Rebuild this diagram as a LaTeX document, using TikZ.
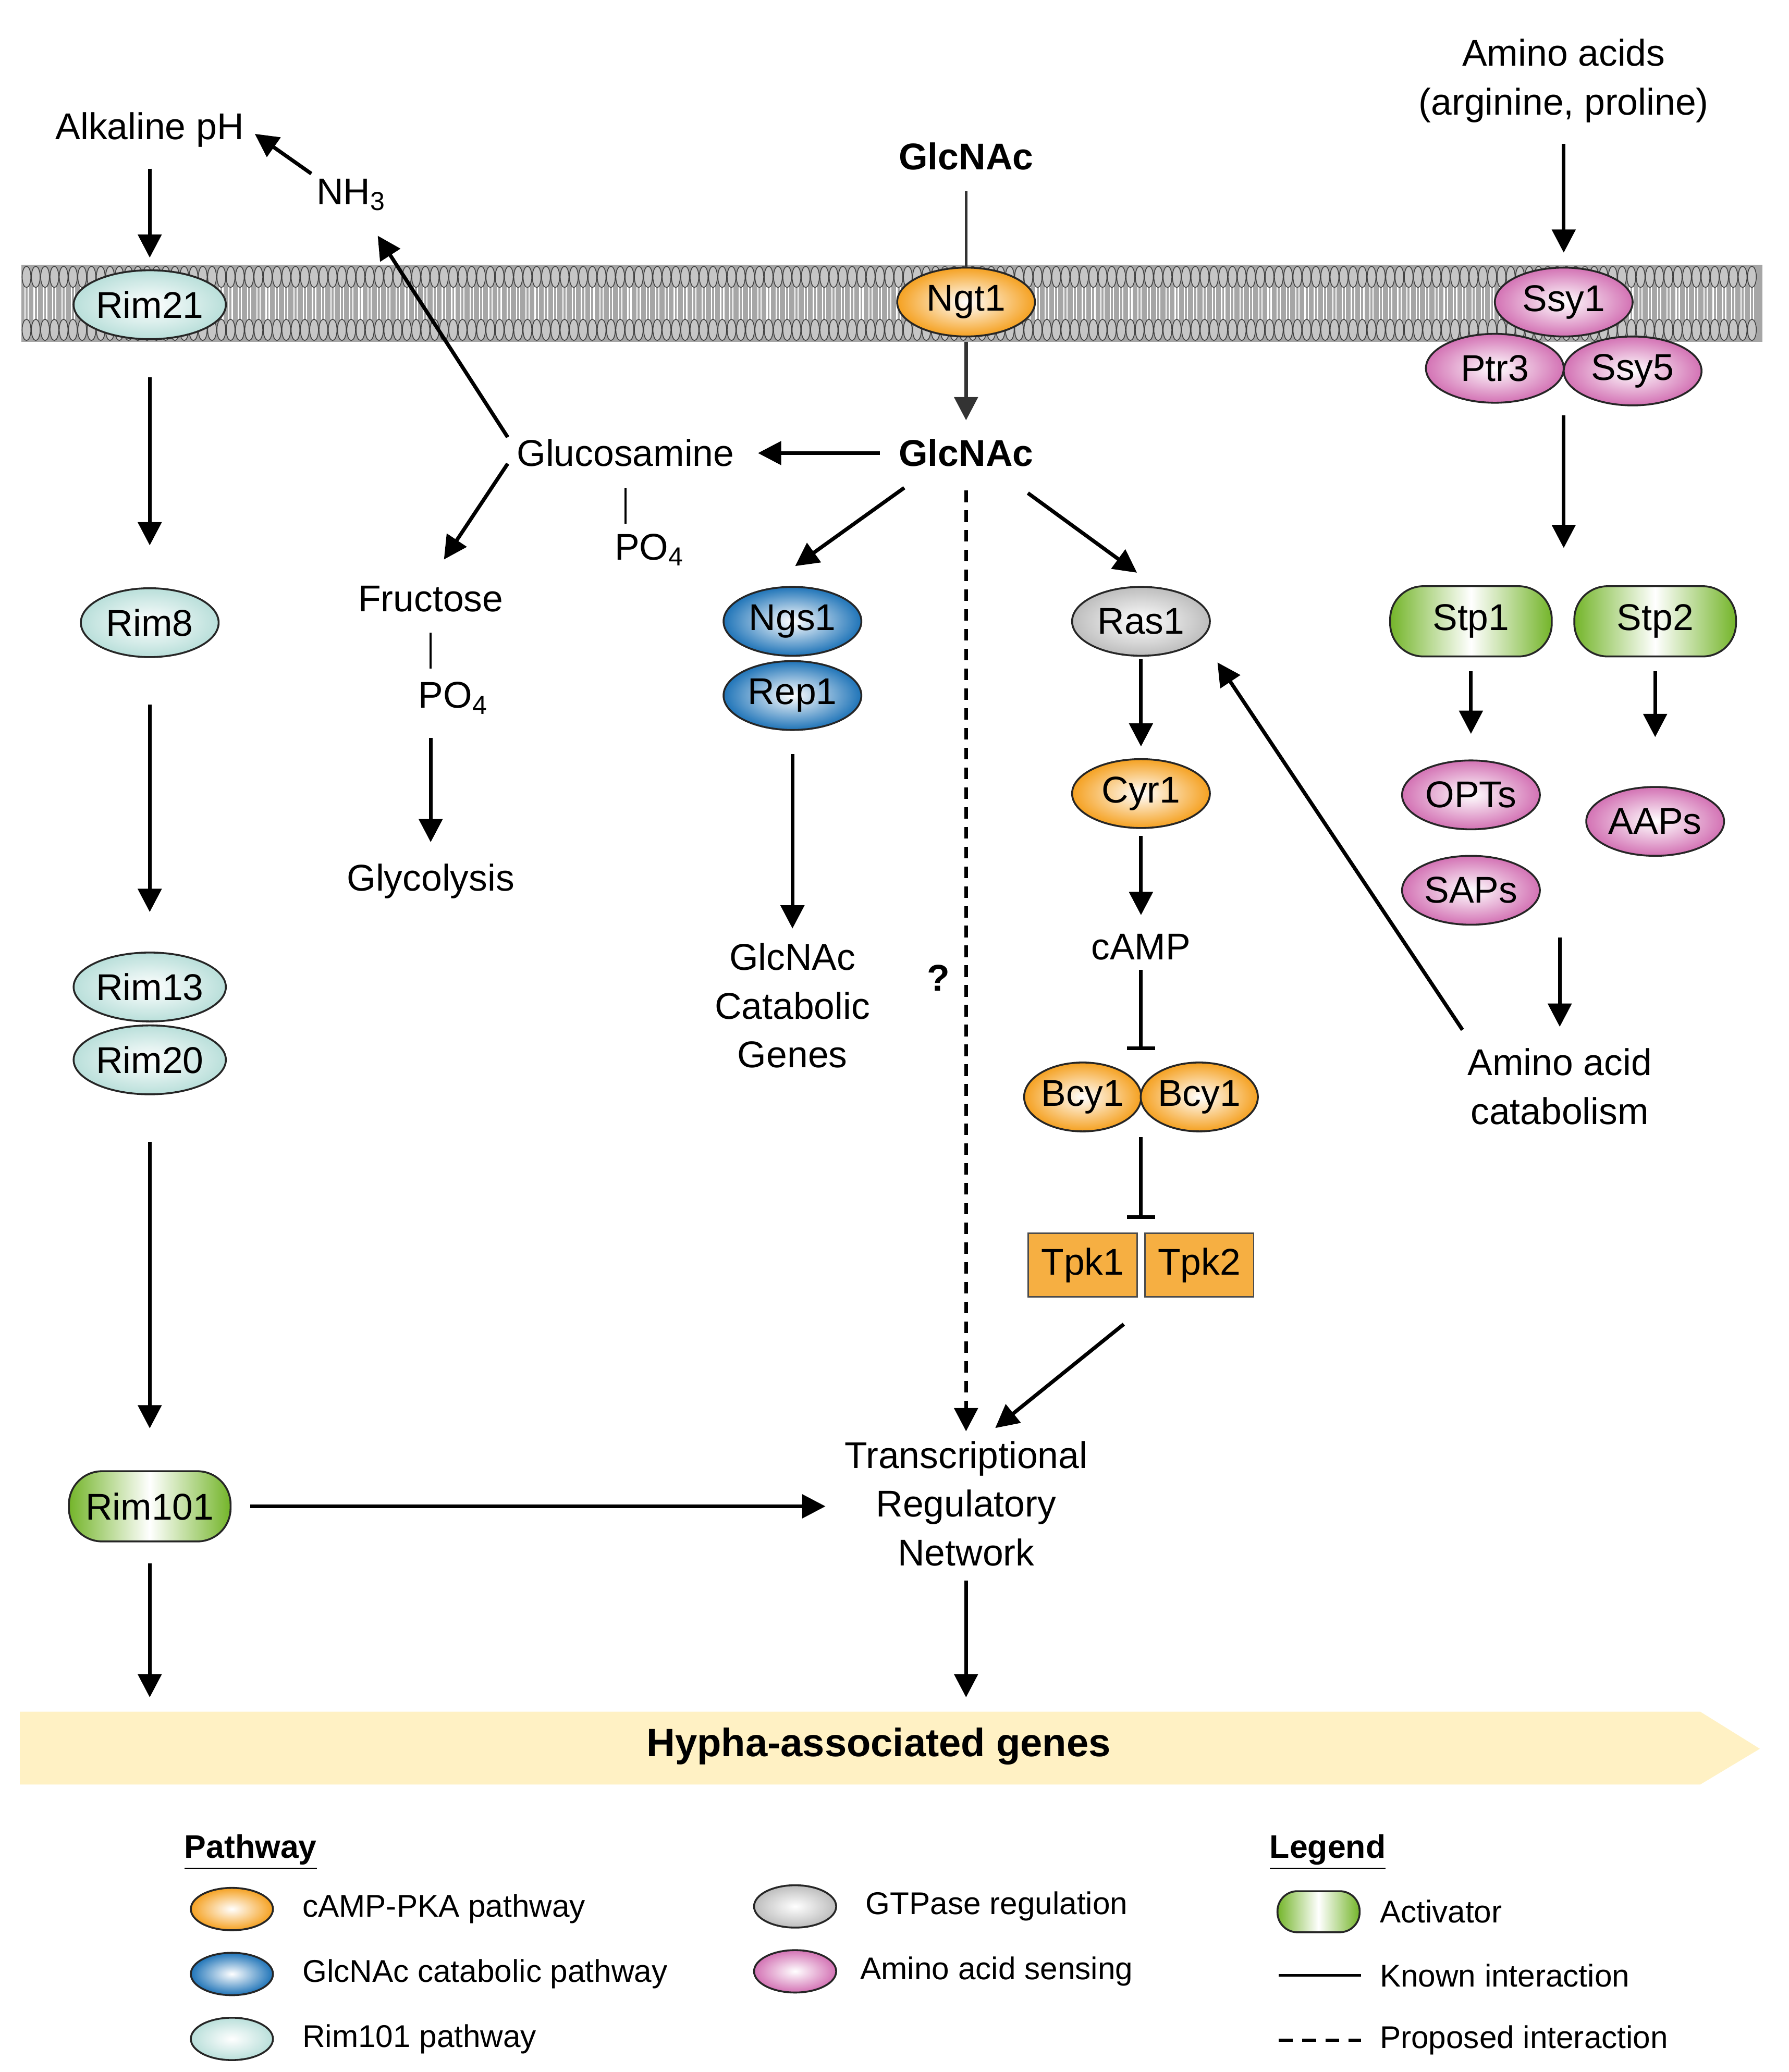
\documentclass[tikz,border=0pt]{standalone}
\usepackage{fontspec}
\setmainfont{Liberation Sans}
\usetikzlibrary{shapes.geometric,arrows.meta,calc}
\definecolor{cor}{HTML}{F5A121}
\definecolor{cbl}{HTML}{1F74B8}
\definecolor{ccy}{HTML}{B9DFDA}
\definecolor{cgy}{HTML}{BDBDBD}
\definecolor{cpk}{HTML}{D372B4}
\definecolor{cgr}{HTML}{74B52A}
\definecolor{cyl}{HTML}{FFF1C4}
\begin{document}
\begin{tikzpicture}[x=0.02cm,y=-0.02cm,
  font=\fontsize{16}{21}\selectfont,
  ell/.style={ellipse,draw=black!85,line width=0.8pt,minimum width=2.08cm,minimum height=1.04cm,inner sep=0pt,inner color=white},
  oe/.style={ell,outer color=cor},
  be/.style={ell,outer color=cbl},
  ce/.style={ell,outer color=ccy},
  ge/.style={ell,outer color=cgy},
  pe/.style={ell,outer color=cpk},
  act/.style={rectangle,rounded corners=0.5cm,draw=black!85,line width=0.8pt,minimum width=2.44cm,minimum height=1.06cm,inner sep=0pt,left color=cgr,right color=cgr,middle color=white},
  tpk/.style={rectangle,draw=black!70,line width=0.6pt,fill=cor!85,minimum width=1.64cm,minimum height=0.96cm,inner sep=0pt},
  txt/.style={align=center,inner sep=2pt},
  arr/.style={line width=1.6pt,-{Triangle[length=10pt,width=10pt]}},
  inh/.style={line width=1.6pt,-{Bar[width=12pt,line width=1.6pt]}},
  ln/.style={line width=1.6pt},
  le/.style={ell,minimum width=1.24cm,minimum height=0.64cm},
  lt/.style={anchor=west,font=\fontsize{13.5}{16}\selectfont}]
\useasboundingbox (0,0) rectangle (1350,1564);
% membrane
\fill[gray!70] (16,200) rectangle (1330,258);
\foreach \x in {20,27,...,1326}{
  \draw[white,line width=0.5pt] (\x-1.2,215) -- (\x-1.2,243) (\x+1.2,215) -- (\x+1.2,243);
  \filldraw[fill=gray!45,draw=black!75,line width=0.35pt] (\x,209) ellipse [x radius=3.3,y radius=8];
  \filldraw[fill=gray!45,draw=black!75,line width=0.35pt] (\x,249) ellipse [x radius=3.3,y radius=8];
}
% banner
\fill[cyl] (15,1292) -- (1283,1292) -- (1328,1320) -- (1283,1347) -- (15,1347) -- cycle;
\node[font=\fontsize{17}{20}\selectfont\bfseries] (hyp) at (663,1318) {Hypha-associated genes};
\coordinate (hyL) at (113,1290);
\coordinate (hyM) at (729,1290);
% left pathway
\node[txt] (alk) at (113,98) {Alkaline pH};
\node[txt] (nh3) at (265,147) {NH\textsubscript{3}};
\node[ce] (rim21) at (113,230) {Rim21};
\node[ce] (rim8) at (113,470) {Rim8};
\node[ce] (rim13) at (113,745) {Rim13};
\node[ce] (rim20) at (113,800) {Rim20};
\node[act] (rim101) at (113,1137) {Rim101};
% GlcNAc
\node[txt,font=\fontsize{16}{21}\selectfont\bfseries] (glc1) at (729,118) {GlcNAc};
\node[oe] (ngt1) at (729,228) {Ngt1};
\node[txt,font=\fontsize{16}{21}\selectfont\bfseries] (glc2) at (729,342) {GlcNAc};
\node[txt] (gluc) at (472,342) {Glucosamine};
\node[txt] (po4a) at (490,415) {PO\textsubscript{4}};
\node[txt] (fruc) at (325,452) {Fructose};
\node[txt] (po4b) at (342,527) {PO\textsubscript{4}};
\node[txt] (glyc) at (325,665) {Glycolysis};
\node[be] (ngs1) at (598,469) {Ngs1};
\node[be] (rep1) at (598,525) {Rep1};
\node[txt] (cat) at (598,759) {GlcNAc\\Catabolic\\Genes};
\node[txt,font=\fontsize{16}{21}\selectfont\bfseries] (q) at (708,738) {?};
\node[ge] (ras1) at (861,469) {Ras1};
\node[oe] (cyr1) at (861,599) {Cyr1};
\node[txt] (camp) at (861,715) {cAMP};
\node[oe,minimum width=1.76cm] (bcy1a) at (817,828) {Bcy1};
\node[oe,minimum width=1.76cm] (bcy1b) at (905,828) {Bcy1};
\coordinate (bcyc) at (861,828);
\node[tpk] (tpk1) at (817,955) {Tpk1};
\node[tpk] (tpk2) at (905,955) {Tpk2};
\coordinate (tpkc) at (861,955);
\node[txt] (trn) at (729,1135) {Transcriptional\\Regulatory\\Network};
% amino acids
\node[txt] (aa) at (1180,61) {Amino acids\\(arginine, proline)};
\node[pe] (ssy1) at (1180,228) {Ssy1};
\node[pe] (ptr3) at (1128,278) {Ptr3};
\node[pe] (ssy5) at (1232,280) {Ssy5};
\node[act] (stp1) at (1110,469) {Stp1};
\node[act] (stp2) at (1249,469) {Stp2};
\node[pe] (opts) at (1110,600) {OPTs};
\node[pe] (saps) at (1110,672) {SAPs};
\node[pe] (aaps) at (1249,620) {AAPs};
\node[txt] (aac) at (1177,820) {Amino acid\\catabolism};
% connectors
\draw[arr,shorten <=7pt,shorten >=5pt] (alk.south) -- (rim21.north);
\draw[arr,shorten >=3pt] (nh3.north west) -- (alk.east);
\draw[arr,shorten <=16pt,shorten >=18pt] (rim21.south) -- (rim8.north);
\draw[arr,shorten <=20pt,shorten >=17pt] (rim8.south) -- (rim13.north);
\draw[arr,shorten <=20pt,shorten >=18pt] (rim20.south) -- (rim101.north);
\draw[arr,shorten <=8pt,shorten >=6pt] (rim101.east) -- (rim101.east -| trn.west);
\draw[arr,shorten <=9pt,shorten >=5pt] (rim101.south) -- (hyL);
\draw[arr,shorten <=4pt,shorten >=5pt] (trn.south) -- (hyM);
\draw[ln,gray!40!black,line width=1.2pt,shorten <=7pt] (glc1.south) -- (ngt1.north);
\draw[arr,gray!40!black,shorten <=2pt,shorten >=6pt] (ngt1.south) -- (glc2.north);
\draw[arr,shorten <=6pt,shorten >=8pt] (glc2.west) -- (gluc.east);
\draw[arr] ($(gluc.west)+(-3,-12)$) -- ($(nh3.south)+(20,15)$);
\draw[arr] ($(gluc.west)+(-3,8)$) -- ($(fruc.north)+(10,-16)$);
\draw[ln,line width=0.8pt] ($(gluc.south)+(0,12)$) -- ++(0,27);
\draw[ln,line width=0.8pt] ($(fruc.south)+(0,12)$) -- ++(0,27);
\draw[arr,shorten <=8pt,shorten >=7pt] (glyc.north |- po4b.south) -- (glyc.north);
\draw[arr] ($(glc2.south west)+(8,12)$) -- ($(ngs1.north)+(2,-15)$);
\draw[arr] ($(glc2.south east)+(-8,16)$) -- ($(ras1.north)+(-3,-10)$);
\draw[ln,dash pattern=on 5pt off 3.5pt,-{Triangle[length=10pt,width=10pt]},shorten <=8pt,shorten >=2pt] (glc2.south) -- (trn.north);
\draw[arr,shorten <=10pt,shorten >=4pt] (rep1.south) -- (cat.north);
\draw[arr,shorten <=1pt,shorten >=5pt] (ras1.south) -- (cyr1.north);
\draw[arr,shorten <=3pt,shorten >=6pt] (cyr1.south) -- (camp.north);
\draw[inh,shorten <=2pt,shorten >=5pt] (camp.south) -- (bcyc |- bcy1a.north);
\draw[inh,shorten <=2pt,shorten >=6pt] (bcyc |- bcy1a.south) -- (tpkc |- tpk1.north);
\draw[arr] ($(tpkc |- tpk1.south)+(-13,20)$) -- ($(trn.north)+(22,-6)$);
\draw[arr] ($(aac.north west)+(0,-10)$) -- ($(ras1.east)+(5,31)$);
\draw[arr,shorten <=7pt,shorten >=6pt] (aa.south) -- (ssy1.north);
\draw[arr,shorten <=5pt,shorten >=16pt] (ssy1 |- ptr3.south) -- (ssy1 |- stp1.north);
\draw[arr,shorten <=6pt,shorten >=11pt] (stp1.south) -- (opts.north);
\draw[arr,shorten <=6pt,shorten >=21pt] (stp2.south) -- (aaps.north);
\draw[arr,shorten <=5pt,shorten >=7pt] (aac.north |- saps.south) -- (aac.north);
% legend
\node[anchor=west,font=\fontsize{14}{16}\selectfont\bfseries] (lp) at (133,1398) {\underline{Pathway}};
\node[oe,le] (l1) at (175,1441) {};
\node[lt] (l1t) at (222,1441) {cAMP-PKA pathway};
\node[be,le] (l2) at (175,1490) {};
\node[lt] (l2t) at (222,1490) {GlcNAc catabolic pathway};
\node[ce,le] (l3) at (175,1539) {};
\node[lt] (l3t) at (222,1539) {Rim101 pathway};
\node[ge,le] (l4) at (600,1439) {};
\node[lt] (l4t) at (647,1439) {GTPase regulation};
\node[pe,le] (l5) at (600,1488) {};
\node[lt] (l5t) at (643,1488) {Amino acid sensing};
\node[anchor=west,font=\fontsize{14}{16}\selectfont\bfseries] (lg) at (952,1398) {\underline{Legend}};
\node[act,minimum width=1.24cm,minimum height=0.62cm,rounded corners=0.3cm] (l6) at (995,1443) {};
\node[lt] (l6t) at (1035,1443) {Activator};
\coordinate (k1) at (965,1491);
\coordinate (k2) at (1027,1491);
\draw[ln,line width=1.3pt] (k1) -- (k2);
\node[lt] (l7t) at (1035,1491) {Known interaction};
\coordinate (k3) at (965,1540);
\coordinate (k4) at (1027,1540);
\draw[ln,line width=1.3pt,dash pattern=on 6pt off 4pt] (k3) -- (k4);
\node[lt] (l8t) at (1035,1540) {Proposed interaction};
\end{tikzpicture}
\end{document}
